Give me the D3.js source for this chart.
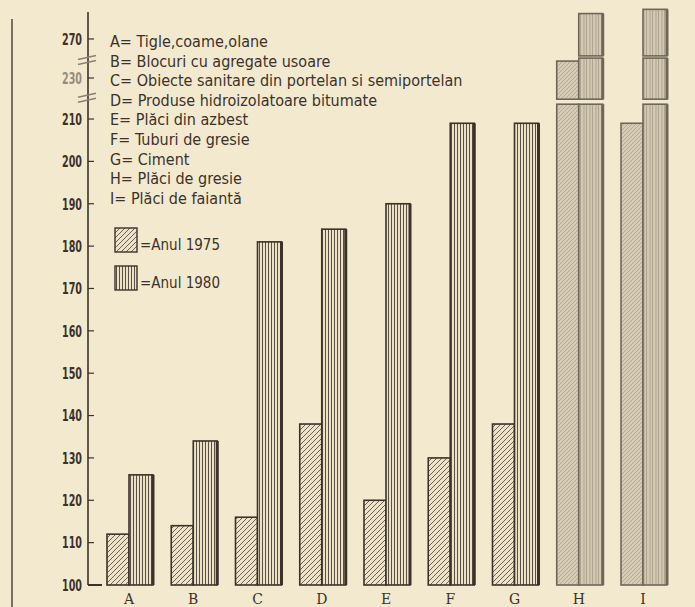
<!DOCTYPE html>
<html>
<head>
<meta charset="utf-8">
<script src="https://cdn.jsdelivr.net/npm/d3@7"></script>
<style>
  html, body { margin: 0; padding: 0; background: #f3e9cf; }
  svg { display: block; }
  text { fill: #3b322a; }
</style>
</head>
<body>
<script>
'use strict';

// categories and the two series (index values)
var categories = ['A', 'B', 'C', 'D', 'E', 'F', 'G', 'H', 'I'];
var values1975 = [112, 114, 116, 138, 120, 130, 138, 234, 209];
var values1980 = [126, 134, 181, 184, 190, 209, 209, 276, 277];

var legendLabels = [
  'A= Tigle,coame,olane',
  'B= Blocuri cu agregate usoare',
  'C= Obiecte sanitare din portelan si semiportelan',
  'D= Produse hidroizolatoare bitumate',
  'E= Plăci din azbest',
  'F= Tuburi de gresie',
  'G= Ciment',
  'H= Plăci de gresie',
  'I= Plăci de faiantă'
];
var seriesLabels = ['=Anul 1975', '=Anul 1980'];

var yTicks = [100, 110, 120, 130, 140, 150, 160, 170, 180, 190, 200, 210, 230, 270];
// broken axis: the visible pieces of the value scale
var axisSegments = [[100, 213.5], [225, 234.7], [266, 278]];

var width = 695, height = 607,
  ink = '#3b322a',
  faded = '#6f665a',
  axisX = 88,
  baseY = 585;

var svg = d3.select('body').append('svg')
  .attr('width', width)
  .attr('height', height);

// piecewise scale, one piece per axis segment
var y = d3.scaleLinear()
  .domain([100, 213.5, 225, 234.7, 266, 278])
  .range([baseY, 104.2, 99.2, 58.1, 55.9, 5.1]);

var x = d3.scalePoint()
  .domain(categories)
  .range([129, 643]);

var defs = svg.append('defs');

function hatch(id, w, h, lines, color, sw, bg) {
  var p = defs.append('pattern')
    .attr('id', id)
    .attr('patternUnits', 'userSpaceOnUse')
    .attr('width', w)
    .attr('height', h);
  if (bg) p.append('rect').attr('width', w).attr('height', h).attr('fill', bg);
  lines.forEach(function(l) {
    p.append('line')
      .attr('x1', l[0]).attr('y1', l[1]).attr('x2', l[2]).attr('y2', l[3])
      .attr('stroke', color).attr('stroke-width', sw);
  });
}

hatch('diag', 5, 5, [[0, 5, 5, 0], [-1, 1, 1, -1], [4, 6, 6, 4]], '#554b41', 0.85, '#eee3c8');
hatch('vert', 3, 3, [[1.5, 0, 1.5, 3]], '#4a4036', 0.9, '#ece1c6');
hatch('diagFaded', 4, 4, [[0, 4, 4, 0], [-1, 1, 1, -1], [3, 5, 5, 3]], '#b3a992', 0.9, '#d6ccb6');
hatch('vertFaded', 6, 6, [[2, 0, 2, 6], [4.5, 0, 4.5, 6]], '#a59b86', 0.8, '#d3c9b3');

// scan edge line on the left
svg.append('line')
  .attr('x1', 12).attr('x2', 12)
  .attr('y1', 19).attr('y2', height)
  .attr('stroke', '#5b5248').attr('stroke-width', 1.6);

// bars, split into the pieces of the broken axis
var bars = [];
categories.forEach(function(c, i) {
  var fadedBar = values1975[i] > 200 || values1980[i] > 240;
  bars.push({ cat: c, v: values1975[i], x0: x(c) - 22, w: 22, fill: fadedBar ? 'url(#diagFaded)' : 'url(#diag)', faded: fadedBar, heavy: false });
  bars.push({ cat: c, v: values1980[i], x0: x(c), w: 24, fill: fadedBar ? 'url(#vertFaded)' : 'url(#vert)', faded: fadedBar, heavy: true });
});

var pieces = [];
bars.forEach(function(b) {
  axisSegments.forEach(function(s) {
    if (b.v <= s[0]) return;
    pieces.push({ bar: b, lo: s[0], hi: Math.min(b.v, s[1]) });
  });
});

var g = svg.append('g');

g.selectAll('rect.bar')
  .data(pieces)
  .join('rect')
  .attr('class', 'bar')
  .attr('x', function(d) { return d.bar.x0; })
  .attr('y', function(d) { return y(d.hi); })
  .attr('width', function(d) { return d.bar.w; })
  .attr('height', function(d) { return y(d.lo) - y(d.hi); })
  .attr('fill', function(d) { return d.bar.fill; })
  .attr('stroke', function(d) { return d.bar.faded ? faded : ink; })
  .attr('stroke-width', 1.6);

// heavy shadow on the right edge of the 1980 bars
g.selectAll('line.shadow')
  .data(pieces.filter(function(d) { return d.bar.heavy; }))
  .join('line')
  .attr('class', 'shadow')
  .attr('x1', function(d) { return d.bar.x0 + d.bar.w; })
  .attr('x2', function(d) { return d.bar.x0 + d.bar.w; })
  .attr('y1', function(d) { return y(d.hi); })
  .attr('y2', function(d) { return y(d.lo); })
  .attr('stroke', function(d) { return d.bar.faded ? faded : ink; })
  .attr('stroke-width', 3);

// Y axis
svg.append('line')
  .attr('x1', axisX).attr('x2', axisX)
  .attr('y1', 12).attr('y2', baseY)
  .attr('stroke', ink).attr('stroke-width', 1.6);

var ticks = svg.append('g').selectAll('g')
  .data(yTicks)
  .join('g')
  .attr('transform', function(d) { return 'translate(0,' + y(d) + ')'; });

ticks.append('line')
  .attr('x1', axisX)
  .attr('x2', function(d) { return d === 100 ? axisX + 14 : axisX + 6; })
  .attr('stroke', ink)
  .attr('stroke-width', function(d) { return d === 100 ? 2 : 1.2; });

ticks.append('text')
  .attr('x', 82)
  .attr('dy', '0.36em')
  .attr('text-anchor', 'end')
  .attr('font-family', 'DejaVu Sans Condensed, DejaVu Sans')
  .attr('font-weight', 'bold')
  .attr('font-size', 16)
  .attr('textLength', 20)
  .attr('lengthAdjust', 'spacingAndGlyphs')
  .attr('opacity', function(d) { return d === 230 ? 0.5 : 1; })
  .text(function(d) { return d; });

// break marks on the axis
var breakShift = [-4, 3];
for (var k = 0; k < axisSegments.length - 1; k++) {
  var yb = (y(axisSegments[k][1]) + y(axisSegments[k + 1][0])) / 2 + breakShift[k];
  [-2.5, 2.5].forEach(function(off) {
    svg.append('line')
      .attr('x1', axisX - 10).attr('y1', yb + off + 2)
      .attr('x2', axisX + 8).attr('y2', yb + off - 2)
      .attr('stroke', '#8a8072').attr('stroke-width', 1.4);
  });
}

// category labels
svg.append('g').selectAll('text')
  .data(categories)
  .join('text')
  .attr('x', function(d) { return x(d); })
  .attr('y', 604)
  .attr('text-anchor', 'middle')
  .attr('font-family', 'DejaVu Serif')
  .attr('font-size', 14)
  .attr('fill', function(d, i) { return i > 6 ? faded : ink; })
  .text(function(d) { return d; });

// legend of categories
svg.append('g').selectAll('text')
  .data(legendLabels)
  .join('text')
  .attr('x', 110)
  .attr('y', function(d, i) { return 47 + i * 19.6; })
  .attr('font-family', 'DejaVu Sans Condensed, DejaVu Sans')
  .attr('font-size', 16)
  .attr('font-stretch', 'condensed')
  .text(function(d) { return d; });

// legend of series
var sl = svg.append('g').selectAll('g')
  .data(seriesLabels)
  .join('g')
  .attr('transform', function(d, i) { return 'translate(115,' + (228 + i * 38) + ')'; });

sl.append('rect')
  .attr('width', 22)
  .attr('height', 24)
  .attr('fill', function(d, i) { return i ? 'url(#vert)' : 'url(#diag)'; })
  .attr('stroke', ink)
  .attr('stroke-width', 1.4);

sl.append('text')
  .attr('x', 25)
  .attr('y', 22)
  .attr('font-family', 'DejaVu Sans Condensed, DejaVu Sans')
  .attr('font-size', 16)
  .attr('textLength', 80)
  .attr('lengthAdjust', 'spacingAndGlyphs')
  .text(function(d) { return d; });
</script>
</body>
</html>
